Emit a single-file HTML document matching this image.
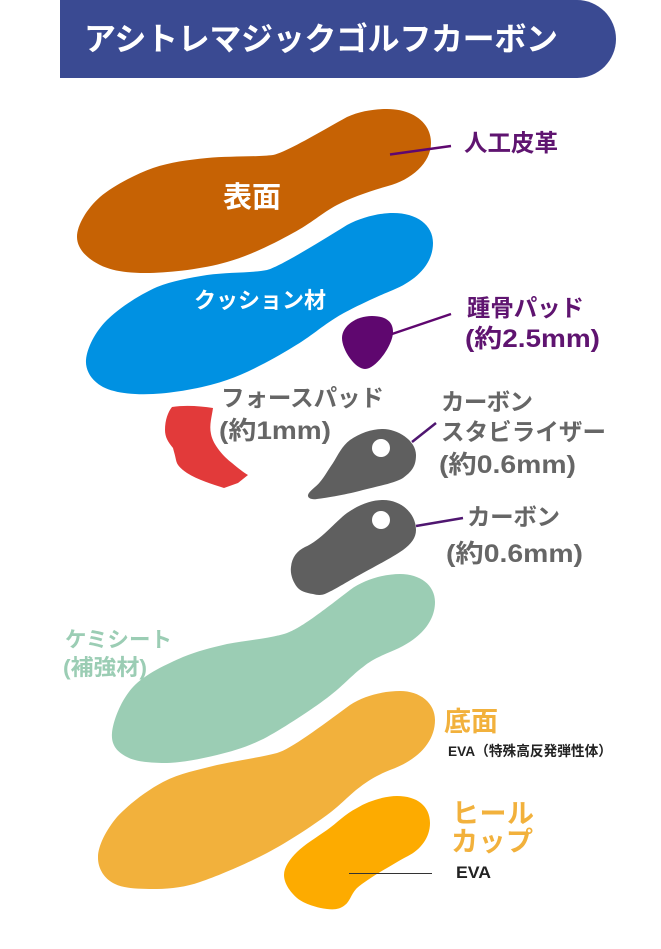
<!DOCTYPE html>
<html lang="ja">
<head>
<meta charset="utf-8">
<title>アシトレマジックゴルフカーボン</title>
<style>
html,body{margin:0;padding:0;background:#fff;width:661px;height:949px;overflow:hidden}
svg{display:block}
text{font-family:"Liberation Sans","Noto Sans CJK JP",sans-serif;font-weight:700}
</style>
</head>
<body>
<svg width="661" height="949" viewBox="0 0 661 949" xmlns="http://www.w3.org/2000/svg">
<rect width="661" height="949" fill="#fff"/>
<path d="M60 0H577A39 39 0 0 1 577 78H60Z" fill="#3a4a92"/>
<text x="84" y="50" font-size="32" fill="#fff" textLength="474" lengthAdjust="spacing">アシトレマジックゴルフカーボン</text>

<path fill="#c66204" d="M387 109C412 109 431 122 431 143C431 163 411 180 388 186C370 191 350 198 337 205C322 213 311 223.5 293 233C275 243 250.8 255.3 227 262C203 269 171 272.5 150 273C129 273.5 112 271 100 265C86 258 77 248 77 237C77 225 87 208.5 100 197C113 186 135 174.5 153 168C171 162 187 160 207 158C228 156 257 157 273 155C287 152 325 129 347 117C360 111 375 109 387 109Z"/>
<path fill="#0091e2" d="M393 213C417 213 433 225 433 243C433 265 415 281 393 290C378 296 350 309 337 317C322 326 311 336.5 293 347C275 358 250 372 227 380C204 388 174 393 153 394C132 395 114 392.7 103 387C92 381 85.3 371 86 360C87 348 95 332 107 320C119 308 140 294.5 157 287C172 281 189 278 207 275C228 272 252 273 267 270C279 267 318 243 347 225C362 217 380 213 393 213Z"/>
<path fill="#5f076f" d="M372 316C385 316 393 321 393 332C393 345 376 369 365 369C355 369 342 350 342 338C342 326 356 316 372 316Z"/>
<path fill="#e23a3a" d="M172 407C185 405 200 406 213 408C212 416 209 425 211 434C213 445 224 457 232 463C238 468 243 472 248 475L238 483L224 488C212 484 198 480 187 473C180 468 177 465 176 460C175 455 174 452 173 448C168 442 165 437 165 430C165 420 168 412 172 407Z"/>
<path fill="#5f5f5f" d="M383 429C397 429 416 440 416 455C416 467 411 472 403 478C395 483 377 486.5 363 490C349 494 326 498 317 499C311 500 307.5 498 308 495C309 491 316 487 320 482C325 476 328 470 333 463C338 455 342 446 350 440C360 433 372 429 383 429Z"/>
<circle cx="381" cy="448" r="9" fill="#fff"/>
<path fill="#5f5f5f" d="M383 500C402 500 416 514 416 530C416 538 411 544 403 550C393 557 376 566 363 573C350 580 335 589.5 327 593C321 596 317 595 313 594C306 593 300 591 297 587C293 582 290 574 291 567C292 557 297 551 305 547C320 541 335 522 347 513C360 504 372 500 383 500Z"/>
<circle cx="381" cy="520" r="9" fill="#fff"/>
<path fill="#9bcdb4" d="M400 574C420 574 435 585 435 602C435 622 420 640 390 652C378 657 370 661 363 667C352 675 343 686 327 698C311 710 285 727 267 737C250 746 234 751 217 755C200 759 182 762.7 167 763C152 763 136 762 127 757C117 752 111 745 112 733C113 721 121 700 133 687C145 674 167 664 183 657C198 651 210 648 227 644C250 640 272 638 287 633C300 628 315 617 350 590C365 579 385 574 400 574Z"/>
<path fill="#f2b13c" d="M400 691C420 691 435 703 435 720C435 742 418 760 390 770C380 774 370 779 360 787C349 795 342 804 327 815C312 826 288 842 267 853C246 864 218 876 200 882C186 887 171 888.7 157 889C142 889 125 889 115 884C104 879 97.7 868 98 857C98 846 106 830 117 817C128 805 146 791 163 782C180 773 198 770 217 765C240 760 262 757 277 753C291 749 320 727 350 705C365 695 385 691 400 691Z"/>
<path fill="#fdab00" d="M397 796C417 796 430 806 430 823C430 838 420 850 408 856C400 860 394 864 387 868C378 873 364 882 357 888C351 894 350 901.5 345 905C340 909 335 910 327 909C318 908 304 904 297 898C290 892 284 883 284 875C284 867 290 859 297 852C304 845 317 837 327 830C337 823 345 814 357 808C368 801 385 796 397 796Z"/>

<line x1="390" y1="154.5" x2="451" y2="146" stroke="#5f076f" stroke-width="2.5"/>
<line x1="392" y1="334" x2="451" y2="314" stroke="#5f076f" stroke-width="2.5"/>
<line x1="412" y1="442" x2="436" y2="423" stroke="#4f1670" stroke-width="2.5"/>
<line x1="416" y1="526" x2="463" y2="518" stroke="#4f1670" stroke-width="2.5"/>
<line x1="349" y1="873.5" x2="432" y2="873.5" stroke="#333" stroke-width="1"/>

<text x="223" y="207" font-size="29" fill="#fff" textLength="58" lengthAdjust="spacing">表面</text>
<text x="194" y="308" font-size="22" fill="#fff" textLength="132" lengthAdjust="spacing">クッション材</text>
<text x="464" y="151" font-size="23.5" fill="#5f1470" textLength="94" lengthAdjust="spacing">人工皮革</text>
<text x="467" y="316" font-size="23.5" fill="#5f1470" textLength="117" lengthAdjust="spacing">踵骨パッド</text>
<text x="465" y="347" font-size="25" fill="#5f1470" textLength="135" lengthAdjust="spacingAndGlyphs">(約2.5mm)</text>
<text x="221" y="406" font-size="23.5" fill="#666" textLength="163" lengthAdjust="spacing">フォースパッド</text>
<text x="219" y="439" font-size="25" fill="#666" textLength="112" lengthAdjust="spacingAndGlyphs">(約1mm)</text>
<text x="441" y="410" font-size="23.5" fill="#666" textLength="92" lengthAdjust="spacing">カーボン</text>
<text x="441" y="440" font-size="23.5" fill="#666" textLength="165" lengthAdjust="spacing">スタビライザー</text>
<text x="439" y="473" font-size="25" fill="#666" textLength="137" lengthAdjust="spacingAndGlyphs">(約0.6mm)</text>
<text x="467" y="525" font-size="23.5" fill="#666" textLength="93" lengthAdjust="spacing">カーボン</text>
<text x="446" y="562" font-size="25" fill="#666" textLength="137" lengthAdjust="spacingAndGlyphs">(約0.6mm)</text>
<text x="65" y="647" font-size="21.5" fill="#9bcdb4" textLength="107" lengthAdjust="spacing">ケミシート</text>
<text x="63" y="675" font-size="22" fill="#9bcdb4" textLength="84" lengthAdjust="spacingAndGlyphs">(補強材)</text>
<text x="444" y="731" font-size="27" fill="#f2b13c" textLength="54" lengthAdjust="spacing">底面</text>
<text x="448" y="756" font-size="14" fill="#222" textLength="164" lengthAdjust="spacingAndGlyphs">EVA（特殊高反発弾性体）</text>
<text x="452" y="823" font-size="27" fill="#f2b13c" textLength="82" lengthAdjust="spacing">ヒール</text>
<text x="451" y="851" font-size="27" fill="#f2b13c" textLength="82" lengthAdjust="spacing">カップ</text>
<text x="456" y="878" font-size="17" fill="#222" textLength="35" lengthAdjust="spacingAndGlyphs">EVA</text>
</svg>
</body>
</html>
